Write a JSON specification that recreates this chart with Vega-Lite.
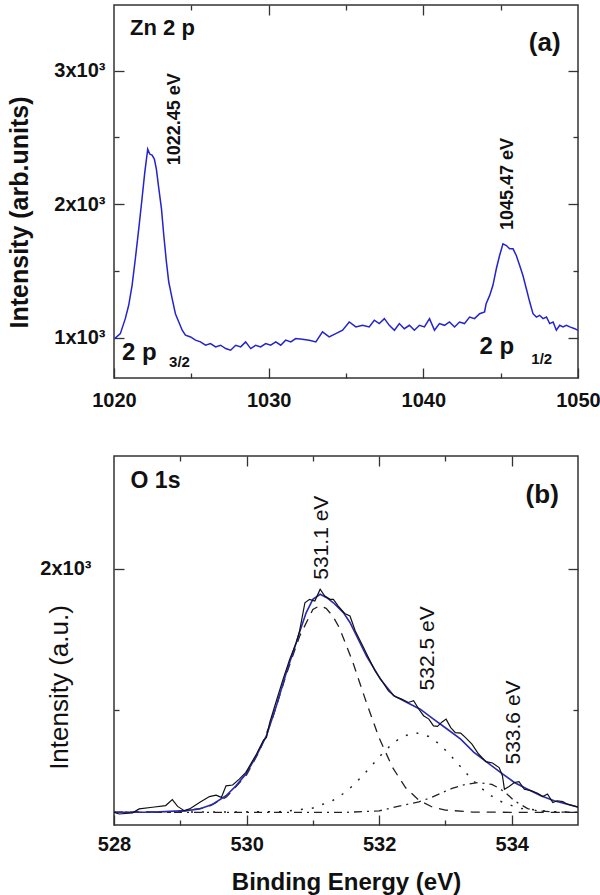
{
  "$schema": "https://vega.github.io/schema/vega-lite/v6.json",
  "padding": {"left": 6, "top": 3, "right": 0, "bottom": 5},
  "background": "white",
  "spacing": 43,
  "config": {
    "view": {"stroke": "#333", "strokeWidth": 1.5},
    "font": "Liberation Sans",
    "axis": {"domain": false, "grid": false, "labelFont": "Liberation Sans", "labelFontSize": 20, "labelFontWeight": "bold", "labelColor": "#111", "tickColor": "#333", "tickWidth": 1.3, "titleFont": "Liberation Sans", "titleColor": "#111"}
  },
  "datasets": {
    "zn": [
      {"x":1020.04,"y":995},{"x":1020.41,"y":1032},{"x":1020.73,"y":1144},{"x":1020.95,"y":1244},{"x":1021.17,"y":1393},{"x":1021.38,"y":1592},{"x":1021.6,"y":1815},{"x":1021.81,"y":2039},{"x":1021.99,"y":2238},{"x":1022.18,"y":2412},{"x":1022.31,"y":2375},{"x":1022.46,"y":2367},{"x":1022.61,"y":2338},{"x":1022.74,"y":2263},{"x":1022.9,"y":2114},{"x":1023.07,"y":1965},{"x":1023.22,"y":1766},{"x":1023.39,"y":1567},{"x":1023.54,"y":1418},{"x":1023.76,"y":1293},{"x":1023.97,"y":1181},{"x":1024.19,"y":1119},{"x":1024.41,"y":1057},{"x":1024.62,"y":1020},{"x":1024.95,"y":1007},{"x":1025.27,"y":983},{"x":1025.59,"y":970},{"x":1025.92,"y":945},{"x":1026.24,"y":958},{"x":1026.57,"y":933},{"x":1026.89,"y":945},{"x":1027.22,"y":920},{"x":1027.54,"y":908},{"x":1027.87,"y":945},{"x":1028.19,"y":933},{"x":1028.51,"y":970},{"x":1028.84,"y":920},{"x":1029.16,"y":945},{"x":1029.48,"y":933},{"x":1029.81,"y":958},{"x":1030.13,"y":945},{"x":1030.46,"y":970},{"x":1030.78,"y":945},{"x":1031.1,"y":983},{"x":1031.43,"y":970},{"x":1031.75,"y":995},{"x":1032.18,"y":990},{"x":1032.62,"y":983},{"x":1033.05,"y":970},{"x":1033.48,"y":1045},{"x":1033.91,"y":1007},{"x":1034.34,"y":1032},{"x":1034.78,"y":1057},{"x":1035.21,"y":1119},{"x":1035.64,"y":1082},{"x":1036.07,"y":1094},{"x":1036.5,"y":1082},{"x":1036.83,"y":1132},{"x":1037.15,"y":1107},{"x":1037.48,"y":1144},{"x":1037.8,"y":1094},{"x":1038.13,"y":1057},{"x":1038.45,"y":1107},{"x":1038.77,"y":1069},{"x":1039.1,"y":1094},{"x":1039.42,"y":1057},{"x":1039.75,"y":1094},{"x":1040.07,"y":1082},{"x":1040.4,"y":1144},{"x":1040.72,"y":1057},{"x":1041.04,"y":1107},{"x":1041.37,"y":1094},{"x":1041.69,"y":1119},{"x":1042.02,"y":1082},{"x":1042.34,"y":1119},{"x":1042.66,"y":1107},{"x":1042.99,"y":1156},{"x":1043.31,"y":1144},{"x":1043.64,"y":1181},{"x":1043.96,"y":1194},{"x":1044.06,"y":1256},{"x":1044.29,"y":1318},{"x":1044.5,"y":1393},{"x":1044.72,"y":1517},{"x":1044.93,"y":1616},{"x":1045.15,"y":1703},{"x":1045.37,"y":1691},{"x":1045.58,"y":1666},{"x":1045.8,"y":1666},{"x":1046.01,"y":1616},{"x":1046.23,"y":1542},{"x":1046.44,"y":1467},{"x":1046.66,"y":1368},{"x":1046.88,"y":1268},{"x":1047.09,"y":1181},{"x":1047.31,"y":1156},{"x":1047.52,"y":1169},{"x":1047.74,"y":1144},{"x":1047.96,"y":1156},{"x":1048.17,"y":1107},{"x":1048.39,"y":1119},{"x":1048.6,"y":1057},{"x":1048.82,"y":1094},{"x":1049.03,"y":1082},{"x":1049.25,"y":1094},{"x":1049.47,"y":1082},{"x":1049.79,"y":1069},{"x":1050.0,"y":1057}
    ],
    "oexp": [
      {"x":528.0,"y":1135},{"x":528.08,"y":1129},{"x":528.28,"y":1133},{"x":528.38,"y":1147},{"x":528.58,"y":1153},{"x":528.78,"y":1159},{"x":528.88,"y":1180},{"x":528.96,"y":1156},{"x":529.06,"y":1141},{"x":529.14,"y":1147},{"x":529.29,"y":1170},{"x":529.44,"y":1191},{"x":529.54,"y":1196},{"x":529.62,"y":1188},{"x":529.69,"y":1229},{"x":529.79,"y":1232},{"x":529.89,"y":1253},{"x":529.99,"y":1277},{"x":530.15,"y":1342},{"x":530.25,"y":1389},{"x":530.3,"y":1401},{"x":530.35,"y":1454},{"x":530.45,"y":1531},{"x":530.55,"y":1607},{"x":530.65,"y":1678},{"x":530.75,"y":1738},{"x":530.8,"y":1779},{"x":530.88,"y":1879},{"x":530.95,"y":1891},{"x":531.03,"y":1885},{"x":531.11,"y":1927},{"x":531.18,"y":1903},{"x":531.26,"y":1891},{"x":531.31,"y":1891},{"x":531.38,"y":1868},{"x":531.48,"y":1841},{"x":531.56,"y":1832},{"x":531.64,"y":1779},{"x":531.74,"y":1732},{"x":531.84,"y":1684},{"x":531.94,"y":1637},{"x":532.04,"y":1602},{"x":532.14,"y":1566},{"x":532.24,"y":1546},{"x":532.34,"y":1537},{"x":532.44,"y":1525},{"x":532.52,"y":1531},{"x":532.6,"y":1501},{"x":532.67,"y":1478},{"x":532.75,"y":1466},{"x":532.82,"y":1442},{"x":532.88,"y":1440},{"x":532.95,"y":1456},{"x":533.01,"y":1466},{"x":533.08,"y":1436},{"x":533.15,"y":1418},{"x":533.23,"y":1416},{"x":533.3,"y":1401},{"x":533.4,"y":1377},{"x":533.5,"y":1342},{"x":533.61,"y":1315},{"x":533.71,"y":1310},{"x":533.81,"y":1294},{"x":533.86,"y":1265},{"x":533.89,"y":1217},{"x":533.96,"y":1227},{"x":534.04,"y":1241},{"x":534.11,"y":1244},{"x":534.19,"y":1217},{"x":534.29,"y":1212},{"x":534.39,"y":1203},{"x":534.47,"y":1191},{"x":534.54,"y":1200},{"x":534.62,"y":1170},{"x":534.69,"y":1176},{"x":534.77,"y":1173},{"x":534.84,"y":1164},{"x":534.92,"y":1159},{"x":535.0,"y":1153}
    ],
    "ofit": [
      {"x":528.0,"y":1135},{"x":528.53,"y":1135},{"x":529.09,"y":1141},{"x":529.29,"y":1147},{"x":529.49,"y":1164},{"x":529.69,"y":1194},{"x":529.84,"y":1229},{"x":529.99,"y":1271},{"x":530.15,"y":1336},{"x":530.3,"y":1407},{"x":530.45,"y":1513},{"x":530.6,"y":1631},{"x":530.75,"y":1738},{"x":530.8,"y":1775},{"x":530.9,"y":1844},{"x":531.0,"y":1891},{"x":531.11,"y":1909},{"x":531.21,"y":1897},{"x":531.31,"y":1879},{"x":531.46,"y":1844},{"x":531.56,"y":1809},{"x":531.66,"y":1761},{"x":531.81,"y":1690},{"x":532.02,"y":1607},{"x":532.22,"y":1549},{"x":532.42,"y":1525},{"x":532.62,"y":1501},{"x":532.82,"y":1466},{"x":533.03,"y":1430},{"x":533.23,"y":1395},{"x":533.43,"y":1348},{"x":533.63,"y":1312},{"x":533.83,"y":1277},{"x":534.04,"y":1241},{"x":534.24,"y":1217},{"x":534.44,"y":1194},{"x":534.64,"y":1176},{"x":534.84,"y":1164},{"x":535.0,"y":1154}
    ],
    "odash": [
      {"x":528.0,"y":1135},{"x":529.0,"y":1138},{"x":529.4,"y":1152},{"x":529.7,"y":1190},{"x":530.0,"y":1268},{"x":530.2,"y":1355},{"x":530.4,"y":1475},{"x":530.6,"y":1625},{"x":530.8,"y":1760},{"x":531.0,"y":1855},{"x":531.1,"y":1868},{"x":531.2,"y":1859},{"x":531.3,"y":1832},{"x":531.4,"y":1790},{"x":531.6,"y":1670},{"x":531.8,"y":1530},{"x":532.0,"y":1399},{"x":532.2,"y":1295},{"x":532.4,"y":1222},{"x":532.6,"y":1178},{"x":532.8,"y":1154},{"x":533.0,"y":1143},{"x":533.4,"y":1136},{"x":534.0,"y":1135},{"x":535.0,"y":1135}
    ],
    "odot": [
      {"x":528.0,"y":1135},{"x":530.5,"y":1137},{"x":531.0,"y":1150},{"x":531.3,"y":1177},{"x":531.45,"y":1200},{"x":531.6,"y":1229},{"x":531.75,"y":1265},{"x":531.9,"y":1304},{"x":532.05,"y":1344},{"x":532.2,"y":1379},{"x":532.35,"y":1404},{"x":532.55,"y":1418},{"x":532.75,"y":1404},{"x":532.9,"y":1379},{"x":533.05,"y":1344},{"x":533.2,"y":1304},{"x":533.35,"y":1265},{"x":533.5,"y":1229},{"x":533.65,"y":1200},{"x":533.8,"y":1177},{"x":534.1,"y":1150},{"x":534.6,"y":1137},{"x":535.0,"y":1135}
    ],
    "odashdot": [
      {"x":528.0,"y":1135},{"x":531.5,"y":1135},{"x":532.0,"y":1140},{"x":532.3,"y":1157},{"x":532.6,"y":1172},{"x":532.8,"y":1189},{"x":533.0,"y":1210},{"x":533.1,"y":1220},{"x":533.3,"y":1234},{"x":533.5,"y":1241},{"x":533.7,"y":1234},{"x":533.8,"y":1222},{"x":533.9,"y":1206},{"x":534.04,"y":1176},{"x":534.24,"y":1148},{"x":534.4,"y":1140},{"x":534.7,"y":1136},{"x":535.0,"y":1135}
    ]
  },
  "vconcat": [
    {
      "width": 464,
      "height": 373,
      "layer": [
        {
          "data": {"name": "zn"},
          "mark": {"type": "line", "color": "#2323cf", "strokeWidth": 1.5, "clip": true},
          "encoding": {
            "x": {"field": "x", "type": "quantitative", "scale": {"domain": [1020, 1050], "nice": false, "zero": false},
                  "axis": {"orient": "bottom", "values": [1020, 1030, 1040, 1050], "format": "d", "tickSize": -10, "labelPadding": 22, "labelFlush": false, "title": null}},
            "y": {"field": "y", "type": "quantitative", "scale": {"domain": [700, 3490], "nice": false, "zero": false},
                  "axis": {"orient": "left", "values": [1000, 2000, 3000], "tickSize": -10, "labelPadding": 19, "labelExpr": "format(datum.value/1000, 'd') + 'x10³'",
                           "title": "Intensity (arb.units)", "titleFontSize": 25, "titleFontWeight": "bold", "titleAngle": 270, "titleX": -95, "titleY": 207, "titleAlign": "center", "titleBaseline": "middle"}}
          }
        },
        {
          "data": {"values": [{"x": 1030, "y": 2000}]},
          "mark": {"type": "point", "opacity": 0},
          "encoding": {
            "x": {"field": "x", "type": "quantitative", "scale": {"domain": [1020, 1050], "nice": false, "zero": false},
                  "axis": {"orient": "top", "values": [1030, 1040], "tickSize": -10, "labels": false, "title": null}},
            "y": {"field": "y", "type": "quantitative", "scale": {"domain": [700, 3490], "nice": false, "zero": false},
                  "axis": {"orient": "right", "values": [1000, 2000, 3000], "tickSize": -10, "labels": false, "title": null}}
          }
        },
        {
          "data": {"values": [{"x": 1030, "y": 2000}]},
          "mark": {"type": "point", "opacity": 0},
          "encoding": {
            "x": {"field": "x", "type": "quantitative", "scale": {"domain": [1020, 1050], "nice": false, "zero": false},
                  "axis": {"orient": "bottom", "values": [1025, 1035, 1045], "tickSize": -5, "labels": false, "title": null}},
            "y": {"field": "y", "type": "quantitative", "scale": {"domain": [700, 3490], "nice": false, "zero": false},
                  "axis": {"orient": "left", "values": [1500, 2500], "tickSize": -5, "labels": false, "title": null}}
          }
        },
        {
          "data": {"values": [{"x": 1030, "y": 2000}]},
          "mark": {"type": "point", "opacity": 0},
          "encoding": {
            "x": {"field": "x", "type": "quantitative", "scale": {"domain": [1020, 1050], "nice": false, "zero": false},
                  "axis": {"orient": "top", "values": [1025, 1035, 1045], "tickSize": -5, "labels": false, "title": null}},
            "y": {"field": "y", "type": "quantitative", "scale": {"domain": [700, 3490], "nice": false, "zero": false},
                  "axis": {"orient": "right", "values": [1500, 2500], "tickSize": -5, "labels": false, "title": null}}
          }
        },
        {
          "data": {"values": [{"x": 1021.04, "y": 3320, "t": "Zn 2 p"}]},
          "mark": {"type": "text", "font": "Liberation Sans", "fontSize": 22, "fontWeight": "bold", "align": "left", "baseline": "middle", "color": "#111"},
          "encoding": {
            "x": {"field": "x", "type": "quantitative", "scale": {"domain": [1020, 1050], "nice": false, "zero": false}, "axis": null},
            "y": {"field": "y", "type": "quantitative", "scale": {"domain": [700, 3490], "nice": false, "zero": false}, "axis": null},
            "text": {"field": "t"}
          }
        },
        {
          "data": {"values": [{"x": 1047.85, "y": 3208, "t": "(a)"}]},
          "mark": {"type": "text", "font": "Liberation Sans", "fontSize": 26, "fontWeight": "bold", "align": "center", "baseline": "middle", "color": "#111"},
          "encoding": {
            "x": {"field": "x", "type": "quantitative", "scale": {"domain": [1020, 1050], "nice": false, "zero": false}, "axis": null},
            "y": {"field": "y", "type": "quantitative", "scale": {"domain": [700, 3490], "nice": false, "zero": false}, "axis": null},
            "text": {"field": "t"}
          }
        },
        {
          "data": {"values": [{"x": 1023.92, "y": 2636, "t": "1022.45 eV"}, {"x": 1045.47, "y": 2151, "t": "1045.47 eV"}]},
          "mark": {"type": "text", "font": "Liberation Sans", "fontSize": 18, "fontWeight": "bold", "align": "center", "baseline": "middle", "angle": 270, "color": "#111"},
          "encoding": {
            "x": {"field": "x", "type": "quantitative", "scale": {"domain": [1020, 1050], "nice": false, "zero": false}, "axis": null},
            "y": {"field": "y", "type": "quantitative", "scale": {"domain": [700, 3490], "nice": false, "zero": false}, "axis": null},
            "text": {"field": "t"}
          }
        },
        {
          "data": {"values": [{"x": 1020.52, "y": 836, "t": "2 p"}, {"x": 1043.63, "y": 883, "t": "2 p"}]},
          "mark": {"type": "text", "font": "Liberation Sans", "fontSize": 24, "fontWeight": "bold", "align": "left", "baseline": "alphabetic", "color": "#111"},
          "encoding": {
            "x": {"field": "x", "type": "quantitative", "scale": {"domain": [1020, 1050], "nice": false, "zero": false}, "axis": null},
            "y": {"field": "y", "type": "quantitative", "scale": {"domain": [700, 3490], "nice": false, "zero": false}, "axis": null},
            "text": {"field": "t"}
          }
        },
        {
          "data": {"values": [{"x": 1023.56, "y": 784, "t": "3/2"}, {"x": 1046.98, "y": 808, "t": "1/2"}]},
          "mark": {"type": "text", "font": "Liberation Sans", "fontSize": 15, "fontWeight": "bold", "align": "left", "baseline": "alphabetic", "color": "#111"},
          "encoding": {
            "x": {"field": "x", "type": "quantitative", "scale": {"domain": [1020, 1050], "nice": false, "zero": false}, "axis": null},
            "y": {"field": "y", "type": "quantitative", "scale": {"domain": [700, 3490], "nice": false, "zero": false}, "axis": null},
            "text": {"field": "t"}
          }
        }
      ],
      "resolve": {"axis": {"x": "independent", "y": "independent"}}
    },
    {
      "width": 464,
      "height": 369,
      "layer": [
        {
          "data": {"name": "odash"},
          "mark": {"type": "line", "color": "#222", "strokeWidth": 1.3, "strokeDash": [9, 7], "clip": true},
          "encoding": {
            "x": {"field": "x", "type": "quantitative", "scale": {"domain": [528, 535], "nice": false, "zero": false}, "axis": null},
            "y": {"field": "y", "type": "quantitative", "scale": {"domain": [1090, 2400], "nice": false, "zero": false}, "axis": null}
          }
        },
        {
          "data": {"name": "odot"},
          "mark": {"type": "line", "color": "#222", "strokeWidth": 1.5, "strokeDash": [2, 9], "clip": true},
          "encoding": {
            "x": {"field": "x", "type": "quantitative", "scale": {"domain": [528, 535], "nice": false, "zero": false}, "axis": null},
            "y": {"field": "y", "type": "quantitative", "scale": {"domain": [1090, 2400], "nice": false, "zero": false}, "axis": null}
          }
        },
        {
          "data": {"name": "odashdot"},
          "mark": {"type": "line", "color": "#222", "strokeWidth": 1.3, "strokeDash": [8, 5, 2, 5], "clip": true},
          "encoding": {
            "x": {"field": "x", "type": "quantitative", "scale": {"domain": [528, 535], "nice": false, "zero": false}, "axis": null},
            "y": {"field": "y", "type": "quantitative", "scale": {"domain": [1090, 2400], "nice": false, "zero": false}, "axis": null}
          }
        },
        {
          "data": {"name": "ofit"},
          "mark": {"type": "line", "color": "#2a2ab0", "strokeWidth": 1.6, "clip": true},
          "encoding": {
            "x": {"field": "x", "type": "quantitative", "scale": {"domain": [528, 535], "nice": false, "zero": false}, "axis": null},
            "y": {"field": "y", "type": "quantitative", "scale": {"domain": [1090, 2400], "nice": false, "zero": false}, "axis": null}
          }
        },
        {
          "data": {"name": "oexp"},
          "mark": {"type": "line", "color": "#111", "strokeWidth": 1.2, "clip": true},
          "encoding": {
            "x": {"field": "x", "type": "quantitative", "scale": {"domain": [528, 535], "nice": false, "zero": false},
                  "axis": {"orient": "bottom", "values": [528, 530, 532, 534], "format": "d", "tickSize": -10, "labelPadding": 19, "labelFlush": false,
                           "title": "Binding Energy (eV)", "titleFontSize": 24, "titleFontWeight": "bold", "titlePadding": 16}},
            "y": {"field": "y", "type": "quantitative", "scale": {"domain": [1090, 2400], "nice": false, "zero": false},
                  "axis": {"orient": "left", "values": [2000], "tickSize": -10, "labelPadding": 33, "labelExpr": "format(datum.value/1000, 'd') + 'x10³'",
                           "title": "Intensity (a.u.)", "titleFontSize": 26, "titleFontWeight": "normal", "titleAngle": 270, "titleX": -55, "titleY": 231, "titleAlign": "center", "titleBaseline": "middle"}}
          }
        },
        {
          "data": {"values": [{"x": 530, "y": 2000}]},
          "mark": {"type": "point", "opacity": 0},
          "encoding": {
            "x": {"field": "x", "type": "quantitative", "scale": {"domain": [528, 535], "nice": false, "zero": false},
                  "axis": {"orient": "top", "values": [530, 532, 534], "tickSize": -10, "labels": false, "title": null}},
            "y": {"field": "y", "type": "quantitative", "scale": {"domain": [1090, 2400], "nice": false, "zero": false},
                  "axis": {"orient": "right", "values": [2000], "tickSize": -10, "labels": false, "title": null}}
          }
        },
        {
          "data": {"values": [{"x": 530, "y": 2000}]},
          "mark": {"type": "point", "opacity": 0},
          "encoding": {
            "x": {"field": "x", "type": "quantitative", "scale": {"domain": [528, 535], "nice": false, "zero": false},
                  "axis": {"orient": "bottom", "values": [529, 531, 533], "tickSize": -5, "labels": false, "title": null}},
            "y": {"field": "y", "type": "quantitative", "scale": {"domain": [1090, 2400], "nice": false, "zero": false},
                  "axis": {"orient": "left", "values": [1500], "tickSize": -5, "labels": false, "title": null}}
          }
        },
        {
          "data": {"values": [{"x": 530, "y": 2000}]},
          "mark": {"type": "point", "opacity": 0},
          "encoding": {
            "x": {"field": "x", "type": "quantitative", "scale": {"domain": [528, 535], "nice": false, "zero": false},
                  "axis": {"orient": "top", "values": [529, 531, 533], "tickSize": -5, "labels": false, "title": null}},
            "y": {"field": "y", "type": "quantitative", "scale": {"domain": [1090, 2400], "nice": false, "zero": false},
                  "axis": {"orient": "right", "values": [1500], "tickSize": -5, "labels": false, "title": null}}
          }
        },
        {
          "data": {"values": [{"x": 528.25, "y": 2311, "t": "O 1s"}]},
          "mark": {"type": "text", "font": "Liberation Sans", "fontSize": 23, "fontWeight": "bold", "align": "left", "baseline": "middle", "color": "#111"},
          "encoding": {
            "x": {"field": "x", "type": "quantitative", "scale": {"domain": [528, 535], "nice": false, "zero": false}, "axis": null},
            "y": {"field": "y", "type": "quantitative", "scale": {"domain": [1090, 2400], "nice": false, "zero": false}, "axis": null},
            "text": {"field": "t"}
          }
        },
        {
          "data": {"values": [{"x": 534.46, "y": 2263, "t": "(b)"}]},
          "mark": {"type": "text", "font": "Liberation Sans", "fontSize": 26, "fontWeight": "bold", "align": "center", "baseline": "middle", "color": "#111"},
          "encoding": {
            "x": {"field": "x", "type": "quantitative", "scale": {"domain": [528, 535], "nice": false, "zero": false}, "axis": null},
            "y": {"field": "y", "type": "quantitative", "scale": {"domain": [1090, 2400], "nice": false, "zero": false}, "axis": null},
            "text": {"field": "t"}
          }
        },
        {
          "data": {"values": [{"x": 531.14, "y": 2110, "t": "531.1 eV"}, {"x": 532.73, "y": 1717, "t": "532.5 eV"}, {"x": 534.03, "y": 1454, "t": "533.6 eV"}]},
          "mark": {"type": "text", "font": "Liberation Sans", "fontSize": 21, "fontWeight": "normal", "align": "center", "baseline": "middle", "angle": 270, "color": "#111"},
          "encoding": {
            "x": {"field": "x", "type": "quantitative", "scale": {"domain": [528, 535], "nice": false, "zero": false}, "axis": null},
            "y": {"field": "y", "type": "quantitative", "scale": {"domain": [1090, 2400], "nice": false, "zero": false}, "axis": null},
            "text": {"field": "t"}
          }
        }
      ],
      "resolve": {"axis": {"x": "independent", "y": "independent"}}
    }
  ]
}
